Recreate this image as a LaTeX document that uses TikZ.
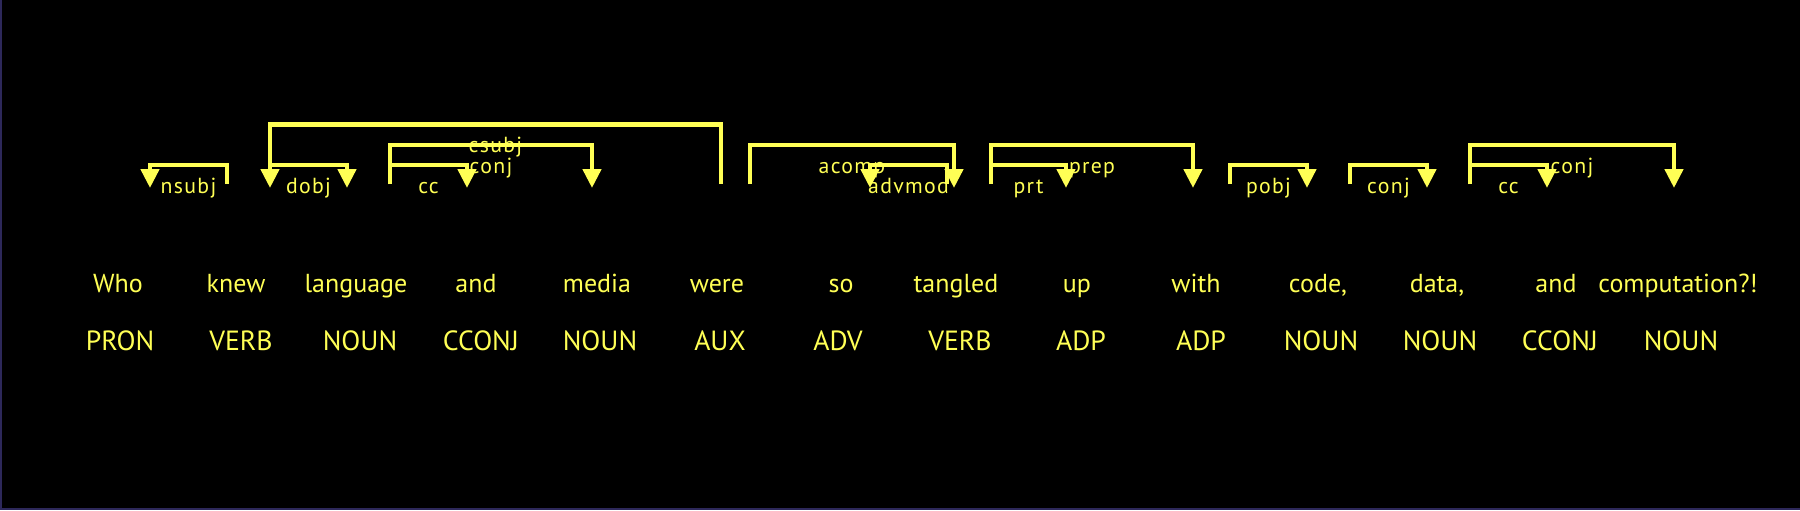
\documentclass[tikz,border=0pt]{standalone}
\usepackage{fontspec}
\setmainfont{PT Sans}
\newfontfamily\lblfont[LetterSpace=6]{PT Sans}
\usepackage{tikz}
\usetikzlibrary{calc,arrows.meta}
\definecolor{depyellow}{RGB}{255,255,85}
\definecolor{framenavy}{RGB}{45,40,90}
\tikzset{
	word/.style={inner sep=0pt, anchor=base, text=depyellow, font=\fontsize{7.4}{9}\selectfont},
	postag/.style={inner sep=0pt, anchor=base, text=depyellow, font=\fontsize{7.9}{9}\selectfont},
	deplabel/.style={inner sep=0pt, anchor=base, text=depyellow, font=\lblfont\fontsize{6.2}{7}\selectfont},
	deparc/.style={draw=depyellow, line width=0.045cm, shorten <=0.04cm, -{Triangle[width=0.18cm,length=0.19cm]}}
}
% arc from (#1) down to (#2) at height #3, label #4
\def\deparc(#1)(#2)(#3:#4){\draw[deparc] (#1) -- (#1 |- 0,#3) -| (#2);
	\node[deplabel] at ($(#1)!0.5!(#2)+(0,{#3-3.5})$) {#4};}

\begin{document}
\begin{tikzpicture}
		%%%%% START %%%%%
		\useasboundingbox (0,0) rectangle (18,5.1);
		\fill[black] (0,0) rectangle (18,5.1);
		\draw[framenavy, line width=0.02cm] (0.01,5.1) -- (0.01,0.01) -- (18,0.01);
		
		% words
		\node[word] (w-who) at (1.18,2.18) {Who};
		\node[word] (w-knew) at (2.36,2.18) {knew};
		\node[word] (w-language) at (3.56,2.18) {language};
		\node[word] (w-and) at (4.76,2.18) {and};
		\node[word] (w-media) at (5.97,2.18) {media};
		\node[word] (w-were) at (7.17,2.18) {were};
		\node[word] (w-so) at (8.41,2.18) {so};
		\node[word] (w-tangled) at (9.56,2.18) {tangled};
		\node[word] (w-up) at (10.77,2.18) {up};
		\node[word] (w-with) at (11.96,2.18) {with};
		\node[word] (w-code) at (13.18,2.18) {code,};
		\node[word] (w-data) at (14.37,2.18) {data,};
		\node[word] (w-and2) at (15.56,2.18) {and};
		\node[word] (w-comp) at (16.78,2.18) {computation?!};
		
		% tags
		\node[postag] (t-who) at (1.20,1.60) {PRON};
		\node[postag] (t-knew) at (2.41,1.60) {VERB};
		\node[postag] (t-language) at (3.60,1.60) {NOUN};
		\node[postag] (t-and) at (4.81,1.60) {CCONJ};
		\node[postag] (t-media) at (6.00,1.60) {NOUN};
		\node[postag] (t-were) at (7.20,1.60) {AUX};
		\node[postag] (t-so) at (8.38,1.60) {ADV};
		\node[postag] (t-tangled) at (9.60,1.60) {VERB};
		\node[postag] (t-up) at (10.81,1.60) {ADP};
		\node[postag] (t-with) at (12.01,1.60) {ADP};
		\node[postag] (t-code) at (13.21,1.60) {NOUN};
		\node[postag] (t-data) at (14.40,1.60) {NOUN};
		\node[postag] (t-and2) at (15.60,1.60) {CCONJ};
		\node[postag] (t-comp) at (16.81,1.60) {NOUN};
		
		% arc feet
		\coordinate (who-r) at (1.50,3.22);
		\coordinate (knew-l) at (2.27,3.22);
		\coordinate (knew-r) at (2.70,3.22);
		\coordinate (language-l) at (3.47,3.22);
		\coordinate (language-r) at (3.90,3.22);
		\coordinate (and-l) at (4.67,3.22);
		\coordinate (media-l) at (5.92,3.22);
		\coordinate (were-l) at (7.21,3.22);
		\coordinate (were-r) at (7.50,3.22);
		\coordinate (so-r) at (8.70,3.22);
		\coordinate (tangled-l) at (9.47,3.22);
		\coordinate (tangled-m) at (9.54,3.22);
		\coordinate (tangled-r) at (9.91,3.22);
		\coordinate (up-l) at (10.66,3.22);
		\coordinate (with-l) at (11.93,3.22);
		\coordinate (with-r) at (12.30,3.22);
		\coordinate (code-l) at (13.07,3.22);
		\coordinate (code-r) at (13.50,3.22);
		\coordinate (data-l) at (14.27,3.22);
		\coordinate (data-r) at (14.70,3.22);
		\coordinate (and2-l) at (15.47,3.22);
		\coordinate (comp-l) at (16.74,3.22);
		
		% arcs
		\deparc(knew-l)(who-r)(3.45:nsubj)
		\deparc(knew-r)(language-l)(3.45:dobj)
		\deparc(were-l)(knew-r)(3.855:csubj)
		\deparc(language-r)(and-l)(3.45:cc)
		\deparc(language-r)(media-l)(3.65:conj)
		\deparc(were-r)(tangled-m)(3.65:acomp)
		\deparc(tangled-l)(so-r)(3.45:advmod)
		\deparc(tangled-r)(up-l)(3.45:prt)
		\deparc(tangled-r)(with-l)(3.65:prep)
		\deparc(with-r)(code-l)(3.45:pobj)
		\deparc(code-r)(data-l)(3.45:conj)
		\deparc(data-r)(and2-l)(3.45:cc)
		\deparc(data-r)(comp-l)(3.65:conj)
		
		%%%%% END %%%%%
	\end{tikzpicture}
\end{document}
